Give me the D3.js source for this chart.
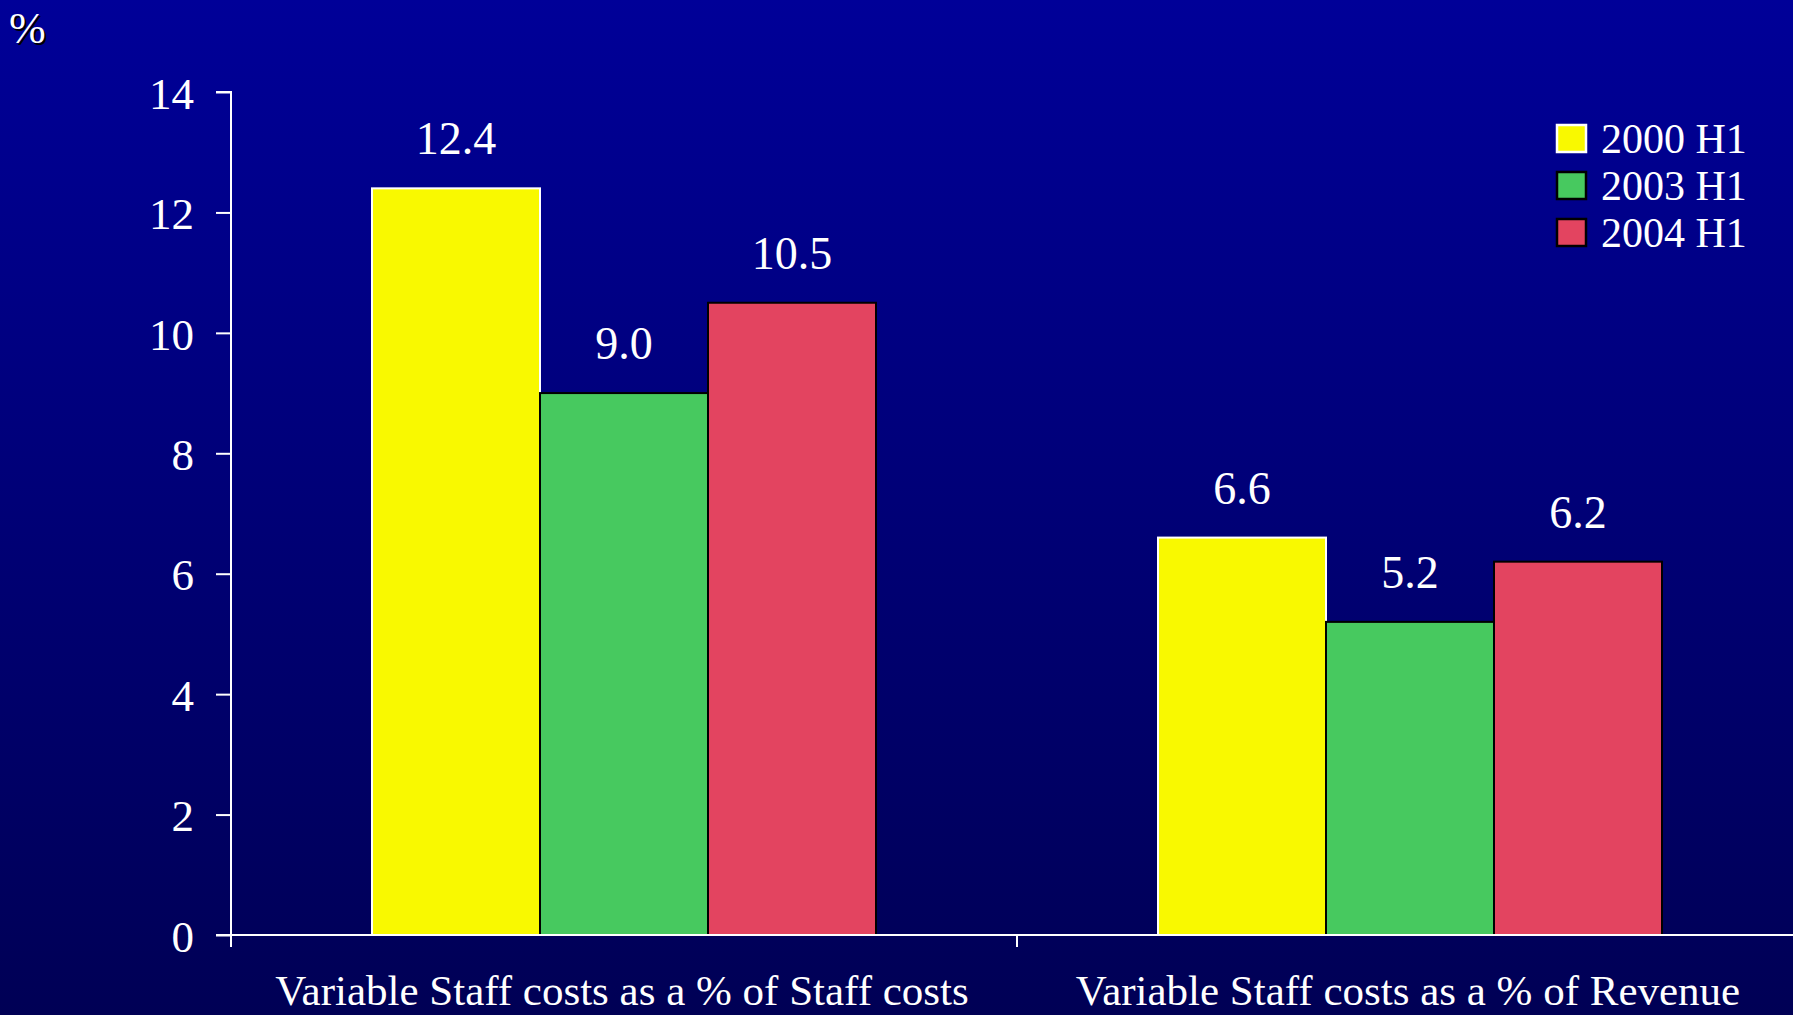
<!DOCTYPE html>
<html>
<head>
<meta charset="utf-8">
<script src="https://cdn.jsdelivr.net/npm/d3@7"></script>
<style>
  html, body { margin: 0; padding: 0; overflow: hidden; background: #000077; }
  svg { display: block; }
</style>
</head>
<body>
<svg id="chart" width="1793" height="1015"></svg>
<script>
// ---- data ----
const categories = ["Variable Staff costs as a % of Staff costs", "Variable Staff costs as a % of Revenue"];
const seriesNames = ["2000 H1", "2003 H1", "2004 H1"];
const values2000 = [12.4, 6.6];
const values2003 = [9.0, 5.2];
const values2004 = [10.5, 6.2];
const yTicks = [0, 2, 4, 6, 8, 10, 12, 14];
const unitLabel = "%";

const seriesValues = [values2000, values2003, values2004];
const fills = ["#F9F900", "#47C95F", "#E34460"];
const strokes = ["#FFFFFF", "#000000", "#000000"];

const W = 1793, H = 1015;
const svg = d3.select("#chart");
const font = "'Liberation Serif', 'Times New Roman', serif";

// background gradient
const defs = svg.append("defs");
const grad = defs.append("linearGradient").attr("id", "bg").attr("x1", 0).attr("y1", 0).attr("x2", 0).attr("y2", 1);
grad.append("stop").attr("offset", "0%").attr("stop-color", "#000098");
grad.append("stop").attr("offset", "100%").attr("stop-color", "#000055");
svg.append("rect").attr("width", W).attr("height", H).attr("fill", "url(#bg)");

const x0 = 231, x1 = 1803, yBase = 935, yTop = 92;
const y = d3.scaleLinear().domain([0, 14]).range([yBase, yTop]);
const xBand = d3.scaleBand().domain(categories).range([x0, x1]).paddingInner(0).paddingOuter(0);
const innerPad = 141 / 786;
const xSeries = d3.scaleBand().domain(seriesNames)
  .range([xBand.bandwidth() * innerPad, xBand.bandwidth() * (1 - innerPad)]).padding(0);

// bars
const groups = svg.append("g").selectAll("g").data(categories).join("g")
  .attr("transform", d => `translate(${xBand(d)},0)`);
groups.each(function(cat, ci) {
  const g = d3.select(this);
  seriesNames.forEach((s, si) => {
    const v = seriesValues[si][ci];
    g.append("rect")
      .attr("x", xSeries(s))
      .attr("y", y(v))
      .attr("width", xSeries.bandwidth())
      .attr("height", yBase - y(v))
      .attr("fill", fills[si])
      .attr("stroke", strokes[si])
      .attr("stroke-width", 2);
    g.append("text")
      .attr("x", xSeries(s) + xSeries.bandwidth() / 2)
      .attr("y", y(v) - 34)
      .attr("text-anchor", "middle")
      .attr("fill", "#FFFFFF")
      .attr("font-family", font)
      .attr("font-size", 46)
      .text(v.toFixed(1));
  });
});

// y axis
const yAxis = d3.axisLeft(y).tickValues(yTicks).tickSize(15).tickPadding(22).tickFormat(d3.format("d"));
const gy = svg.append("g").attr("transform", `translate(${x0},0)`).call(yAxis);
gy.selectAll("path, line").attr("stroke", "#FFFFFF").attr("stroke-width", 2);
gy.select(".domain").attr("d", `M-15,${yTop}H0V${yBase}`);
gy.selectAll("text").attr("fill", "#FFFFFF").attr("font-family", font).attr("font-size", 45).attr("dy", "0.36em");

// x axis
const xAxis = d3.axisBottom(xBand).tickSize(0).tickFormat("");
const gx = svg.append("g").attr("transform", `translate(0,${yBase})`).call(xAxis);
gx.select(".domain").attr("stroke", "#FFFFFF").attr("stroke-width", 2).attr("d", `M${x0 - 15},0H${x1}`);
gx.selectAll(".tick").remove();
// category boundary ticks
const bounds = [x0].concat(categories.map(c => xBand(c) + xBand.bandwidth()));
gx.selectAll("line.sep").data(bounds).join("line").attr("class", "sep")
  .attr("x1", d => d).attr("x2", d => d).attr("y1", 0).attr("y2", 12)
  .attr("stroke", "#FFFFFF").attr("stroke-width", 2);

// category labels
svg.append("g").selectAll("text").data(categories).join("text")
  .attr("x", d => xBand(d) + xBand.bandwidth() / 2 - 2)
  .attr("y", 1005)
  .attr("text-anchor", "middle")
  .attr("fill", "#FFFFFF")
  .attr("font-family", font)
  .attr("font-size", 43)
  .text(d => d);

// unit label with shadow
svg.append("text").attr("x", 11).attr("y", 45).attr("fill", "#000000")
  .attr("font-family", font).attr("font-size", 44).text(unitLabel);
svg.append("text").attr("x", 9).attr("y", 43).attr("fill", "#FFFFFF")
  .attr("font-family", font).attr("font-size", 44).text(unitLabel);

// legend
const legend = svg.append("g").attr("transform", "translate(1557,125)");
const li = legend.selectAll("g").data(seriesNames).join("g")
  .attr("transform", (d, i) => `translate(0,${i * 47})`);
li.append("rect").attr("width", 29).attr("height", 27)
  .attr("fill", (d, i) => fills[i]).attr("stroke", (d, i) => strokes[i]).attr("stroke-width", 2.5);
li.append("text").attr("x", 44).attr("y", 28)
  .attr("fill", "#FFFFFF").attr("font-family", font).attr("font-size", 42).text(d => d);
</script>
</body>
</html>
